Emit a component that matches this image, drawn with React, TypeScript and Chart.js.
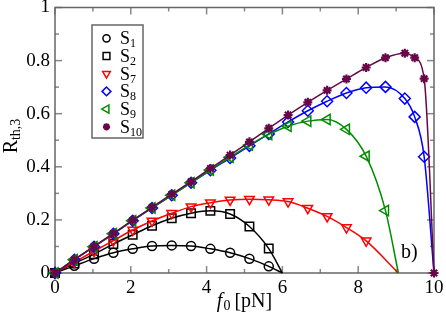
import React, { useEffect, useRef } from 'react';
import { Chart, registerables } from 'chart.js';
import { drawPoint } from 'chart.js/helpers';

Chart.register(...registerables);

const SERIF = "'Liberation Serif', 'Times New Roman', Times, serif";

// force values (pN) at which markers sit
const s1X = [0, 0.51, 1.03, 1.54, 2.05, 2.56, 3.08, 3.59, 4.1, 4.62, 5.13, 5.64, 6.0];
const s1Y = [0, 0.027, 0.054, 0.076, 0.091, 0.102, 0.104, 0.102, 0.091, 0.076, 0.054, 0.025, 0];

const s2X = [0, 0.51, 1.03, 1.54, 2.05, 2.56, 3.08, 3.59, 4.1, 4.62, 5.13, 5.64, 6.0];
const s2Y = [0, 0.036, 0.071, 0.109, 0.144, 0.178, 0.206, 0.225, 0.234, 0.222, 0.175, 0.092, 0];

const s7X = [0, 0.51, 1.03, 1.54, 2.05, 2.56, 3.08, 3.59, 4.1, 4.62, 5.13, 5.64, 6.15, 6.67, 7.18, 7.69, 8.21, 9.06];
const s7Y = [0, 0.041, 0.082, 0.122, 0.162, 0.196, 0.225, 0.25, 0.265, 0.275, 0.278, 0.276, 0.269, 0.244, 0.213, 0.171, 0.121, 0];

const s8X = [0, 0.51, 1.03, 1.54, 2.05, 2.56, 3.08, 3.59, 4.1, 4.62, 5.13, 5.64, 6.15, 6.67, 7.18, 7.69, 8.21, 8.72, 9.23, 9.49, 9.74, 10];
const s8Y = [0, 0.05, 0.099, 0.148, 0.197, 0.245, 0.293, 0.34, 0.387, 0.433, 0.479, 0.524, 0.569, 0.611, 0.647, 0.678, 0.698, 0.701, 0.657, 0.588, 0.438, 0];

const s9X = [0, 0.51, 1.03, 1.54, 2.05, 2.56, 3.08, 3.59, 4.1, 4.62, 5.13, 5.64, 6.15, 6.67, 7.18, 7.69, 8.21, 8.72, 9.06];
const s9Y = [0, 0.05, 0.099, 0.148, 0.197, 0.245, 0.293, 0.34, 0.388, 0.436, 0.482, 0.522, 0.553, 0.572, 0.578, 0.541, 0.44, 0.235, 0];

const s10X = [0, 0.51, 1.03, 1.54, 2.05, 2.56, 3.08, 3.59, 4.1, 4.62, 5.13, 5.64, 6.15, 6.67, 7.18, 7.69, 8.21, 8.72, 9.23, 9.49, 9.74, 10];
const s10Y = [0, 0.05, 0.1, 0.149, 0.199, 0.247, 0.297, 0.344, 0.394, 0.444, 0.494, 0.545, 0.595, 0.643, 0.688, 0.731, 0.774, 0.811, 0.828, 0.811, 0.732, 0];

const legendSubs = ['1', '2', '7', '8', '9', '10'];

const xMajor = [0, 2, 4, 6, 8, 10];
const xMinor = [1, 3, 5, 7, 9];
const yMajor = [0, 0.2, 0.4, 0.6, 0.8, 1];
const yMinor = [0.1, 0.3, 0.5, 0.7, 0.9];

type Style = { color: string; pointStyle: string; radius: number; rotation: number; bw: number; fill: boolean; hideLast: boolean; order: number };

const styles: Style[] = [
  { color: '#000000', pointStyle: 'circle', radius: 4.5, rotation: 0, bw: 1.5, fill: false, hideLast: true, order: 6 },
  { color: '#000000', pointStyle: 'rect', radius: 6, rotation: 0, bw: 1.5, fill: false, hideLast: true, order: 5 },
  { color: '#ff0000', pointStyle: 'triangle', radius: 5.5, rotation: 180, bw: 1.5, fill: false, hideLast: true, order: 4 },
  { color: '#0000ff', pointStyle: 'rectRot', radius: 5.5, rotation: 0, bw: 1.5, fill: false, hideLast: true, order: 3 },
  { color: '#008b00', pointStyle: 'triangle', radius: 6, rotation: 270, bw: 1.5, fill: false, hideLast: true, order: 2 },
  { color: '#670748', pointStyle: 'star', radius: 4.5, rotation: 0, bw: 2.2, fill: true, hideLast: false, order: 1 },
];

const seriesX = [s1X, s2X, s7X, s8X, s9X, s10X];
const seriesY = [s1Y, s2Y, s7Y, s8Y, s9Y, s10Y];

const decor = {
  id: 'decor',
  beforeDatasetsDraw(chart: any) {
    const { ctx, chartArea: a, scales } = chart;
    const xs = scales.x, ys = scales.y;
    ctx.save();
    ctx.strokeStyle = '#888888';
    ctx.lineWidth = 1.5;
    const seg = (x1: number, y1: number, x2: number, y2: number) => {
      ctx.beginPath(); ctx.moveTo(x1, y1); ctx.lineTo(x2, y2); ctx.stroke();
    };
    const MJ = 7, MN = 4;
    xMajor.forEach(v => { const p = xs.getPixelForValue(v); seg(p, a.bottom, p, a.bottom - MJ); seg(p, a.top, p, a.top + MJ); });
    xMinor.forEach(v => { const p = xs.getPixelForValue(v); seg(p, a.bottom, p, a.bottom - MN); seg(p, a.top, p, a.top + MN); });
    yMajor.forEach(v => { const p = ys.getPixelForValue(v); seg(a.left, p, a.left + MJ, p); seg(a.right, p, a.right - MJ, p); });
    yMinor.forEach(v => { const p = ys.getPixelForValue(v); seg(a.left, p, a.left + MN, p); seg(a.right, p, a.right - MN, p); });
    ctx.strokeStyle = '#666666';
    ctx.lineWidth = 1.5;
    ctx.strokeRect(a.left, a.top, a.right - a.left, a.bottom - a.top);
    ctx.restore();
  },
  afterDatasetsDraw(chart: any) {
    const { ctx, chartArea: a } = chart;
    ctx.save();
    // legend
    const bx = 92, by = 25, bw = 51, bh = 113;
    ctx.fillStyle = '#ffffff';
    ctx.fillRect(bx, by, bw, bh);
    ctx.strokeStyle = '#666666';
    ctx.lineWidth = 1.5;
    ctx.strokeRect(bx, by, bw, bh);
    styles.forEach((st, i) => {
      const cy = 38.3 + i * 17.7;
      ctx.strokeStyle = st.color;
      ctx.fillStyle = st.fill ? st.color : 'rgba(0,0,0,0)';
      ctx.lineWidth = st.bw;
      drawPoint(ctx, { pointStyle: st.pointStyle as any, radius: st.radius * 0.8, rotation: st.rotation, borderWidth: st.bw }, 106.5, cy);
      ctx.fillStyle = '#000000';
      ctx.textBaseline = 'alphabetic';
      ctx.textAlign = 'left';
      ctx.font = `18px ${SERIF}`;
      ctx.fillText('S', 120, cy + 6);
      const w = ctx.measureText('S').width;
      ctx.font = `12px ${SERIF}`;
      ctx.fillText(legendSubs[i], 120 + w, cy + 9);
    });
    // x title
    ctx.fillStyle = '#000000';
    ctx.textBaseline = 'alphabetic';
    ctx.textAlign = 'left';
    const cx = (a.left + a.right) / 2;
    ctx.font = `italic 20px ${SERIF}`;
    const wf = ctx.measureText('f').width;
    ctx.font = `14px ${SERIF}`;
    const w0 = ctx.measureText('0').width;
    ctx.font = `20px ${SERIF}`;
    const wr = ctx.measureText(' [pN]').width;
    const x0 = cx - (wf + w0 + wr) / 2;
    const base = 307;
    ctx.font = `italic 20px ${SERIF}`;
    ctx.fillText('f', x0, base);
    ctx.font = `14px ${SERIF}`;
    ctx.fillText('0', x0 + wf + 1, base + 3);
    ctx.font = `20px ${SERIF}`;
    ctx.fillText(' [pN]', x0 + wf + w0, base);
    // y title
    ctx.save();
    ctx.translate(17, 136);
    ctx.rotate(-Math.PI / 2);
    ctx.font = `20px ${SERIF}`;
    const wR = ctx.measureText('R').width;
    ctx.font = `14px ${SERIF}`;
    const ws = ctx.measureText('th,3').width;
    const sx = -(wR + ws) / 2;
    ctx.font = `20px ${SERIF}`;
    ctx.fillText('R', sx, 0);
    ctx.font = `14px ${SERIF}`;
    ctx.fillText('th,3', sx + wR, 3);
    ctx.restore();
    // panel label
    ctx.font = `20px ${SERIF}`;
    ctx.fillText('b)', 401, 258);
    ctx.restore();
  },
};

export default function App() {
  const ref = useRef<HTMLCanvasElement | null>(null);
  useEffect(() => {
    if (!ref.current) return;
    const datasets = styles.map((st, i) => {
      const xs = seriesX[i], ys = seriesY[i];
      const n = xs.length;
      return {
        label: 'S' + legendSubs[i],
        data: xs.map((x, j) => ({ x, y: ys[j] })),
        showLine: true,
        borderColor: st.color,
        backgroundColor: st.fill ? st.color : 'rgba(0,0,0,0)',
        borderWidth: 1.5,
        pointStyle: st.pointStyle,
        pointRotation: st.rotation,
        pointBorderColor: st.color,
        pointBackgroundColor: st.fill ? st.color : 'rgba(0,0,0,0)',
        pointBorderWidth: st.bw,
        pointRadius: (c: any) => (st.hideLast && c.dataIndex === n - 1 ? 0 : st.radius),
        cubicInterpolationMode: 'monotone',
        tension: 0,
        clip: false,
        order: st.order,
      };
    });
    const chart = new Chart(ref.current, {
      type: 'scatter',
      data: { datasets: datasets as any },
      options: {
        animation: false,
        responsive: true,
        maintainAspectRatio: false,
        events: [],
        layout: { padding: { left: 0, right: 12, top: 7, bottom: 0 } },
        plugins: { legend: { display: false }, tooltip: { enabled: false } },
        scales: {
          x: {
            type: 'linear', min: 0, max: 10,
            grid: { display: false, drawTicks: false },
            border: { display: false },
            ticks: { stepSize: 2, padding: 4, color: '#000', font: { family: SERIF, size: 19 }, maxRotation: 0 },
            afterFit: (s: any) => { s.height = 43; s.paddingLeft = 0; s.paddingRight = 0; },
          },
          y: {
            type: 'linear', min: 0, max: 1,
            grid: { display: false, drawTicks: false },
            border: { display: false },
            ticks: {
              stepSize: 0.2, padding: 5, color: '#000', font: { family: SERIF, size: 19 },
              callback: (v: any) => String(Number(Number(v).toFixed(1))),
            },
            afterFit: (s: any) => { s.width = 55; s.paddingTop = 0; s.paddingBottom = 0; },
          },
        },
      } as any,
      plugins: [decor],
    });
    return () => chart.destroy();
  }, []);
  return (
    <div style={{ position: 'absolute', left: 0, top: 0, width: 446, height: 316, background: '#fff' }}>
      <canvas ref={ref} />
    </div>
  );
}
